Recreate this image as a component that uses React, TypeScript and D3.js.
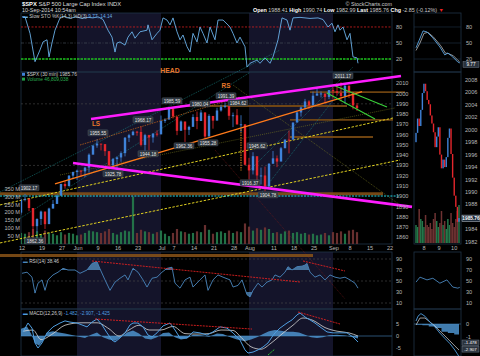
import * as d3 from "d3";

const FONT = "'Liberation Sans', Arial, sans-serif";
const BLUE = "#3f82d8";
const RED = "#e4262c";
const MAG = "#ff1cff";

// trading days 12-May-2014 .. 10-Sep-2014 (index 0..84)
const closes = [
  1896.65, 1897.45, 1888.53, 1870.85, 1877.86,
  1885.08, 1872.83, 1888.03, 1892.49, 1900.53,
  1911.91, 1909.78, 1920.03, 1923.57,
  1924.97, 1924.24, 1927.88, 1940.46, 1949.44,
  1951.27, 1950.79, 1943.89, 1930.11, 1936.16,
  1937.78, 1941.99, 1956.98, 1959.48, 1962.87,
  1962.61, 1949.98, 1959.53, 1957.22, 1960.96,
  1960.23,
  1973.32, 1974.62, 1985.44,
  1977.65, 1963.71, 1972.83, 1964.68, 1967.57,
  1977.1, 1973.28, 1981.57, 1958.12, 1978.22,
  1973.63, 1983.53, 1987.01, 1987.98, 1978.34,
  1978.91, 1969.95, 1970.07, 1930.67, 1925.15,
  1938.99, 1920.21, 1920.24, 1909.57, 1931.59,
  1936.92, 1933.75, 1946.72, 1955.18, 1955.06,
  1971.74, 1981.6, 1986.51, 1992.37, 1988.4,
  1997.92, 2000.02, 2000.12, 1996.74, 2003.37,
  2002.28, 2000.72, 1997.65, 2007.71,
  2001.54, 1988.44, 1985.76,
];
const highs = [
  1897, 1902.17, 1898, 1885.5, 1878.5,
  1886, 1884.9, 1888.8, 1896.3, 1901.3,
  1912.3, 1914.5, 1920.7, 1924,
  1925.9, 1925.1, 1928.6, 1941.7, 1949.4,
  1955.55, 1950.9, 1948.3, 1944, 1937.3,
  1938.8, 1943.7, 1957.7, 1960.8, 1963.9,
  1963.7, 1968.17, 1960.8, 1959.9, 1961.5,
  1964.2,
  1978.6, 1976, 1985.59,
  1984.1, 1976.7, 1973.8, 1969.9, 1968.7,
  1979.8, 1982.5, 1983.9, 1981.8, 1979.9,
  1976.4, 1986.2, 1989.2, 1991.39, 1984.6,
  1981.5, 1984.9, 1978.9, 1965.1, 1937.4,
  1942.9, 1937.4, 1927.9, 1928.9, 1932.4,
  1944.1, 1939.7, 1948, 1955.2, 1964,
  1971.99, 1982.6, 1987.4, 1994.8, 1993.5,
  2001.95, 2005, 2002.1, 1998.5, 2003.4,
  2006.1, 2009.3, 2011.17, 2007.7,
  2007.7, 2001, 1990.74,
];
const lows = [
  1882, 1895, 1885.5, 1862.36, 1864.8,
  1872, 1868.1, 1873.5, 1888, 1893.1,
  1902, 1907.3, 1909.8, 1916.6,
  1915.9, 1918.8, 1918.6, 1922.9, 1942.4,
  1947.2, 1944.6, 1939.3, 1925.78, 1927.7,
  1925.9, 1933.6, 1938.8, 1952.8, 1959.2,
  1958.9, 1948.5, 1944.18, 1944.7, 1952.2,
  1958.2,
  1962.3, 1971.4, 1975.9,
  1975.7, 1959.5, 1965.2, 1952.9, 1959.6,
  1969.8, 1965.3, 1975.7, 1955.6, 1960.8,
  1965.8, 1975.7, 1982.4, 1985.8, 1974.4,
  1967.3, 1969.9, 1962.4, 1930, 1916.37,
  1921.2, 1913.7, 1911.5, 1904.78, 1909,
  1933.4, 1928.3, 1935.6, 1947.4, 1941.7,
  1958.9, 1972.7, 1977.6, 1984.8, 1984.8,
  1991.7, 1998.6, 1996.2, 1990.5, 1994.6,
  1994.9, 1998.1, 1992.4, 1990.1,
  1995.6, 1984.6, 1982.99,
];
const firstOpen = 1884;

// volume, millions
const volumes = [
  70, 65, 75, 95, 80, 60, 85, 70, 65, 55, 75, 60, 70, 65,
  55, 60, 70, 85, 80, 75, 70, 80, 95, 70, 60, 75, 85, 80, 300,
  70, 90, 80, 75, 65, 75, 85, 65, 50, 70, 95, 80, 75, 65,
  70, 80, 75, 120, 90, 65, 75, 80, 70, 85, 70, 80, 75, 130, 110,
  85, 100, 90, 105, 95, 70, 75, 65, 80, 85, 70, 75, 65, 70, 60,
  65, 55, 60, 70, 55, 75, 70, 80, 65, 85, 90, 75,
];

const tickIdx = [0, 5, 10, 14, 19, 24, 29, 35, 38, 43, 48, 53, 57, 63, 68, 73, 78, 82, 87, 92];
const tickLabels = ["12", "19", "27", "Jun", "9", "16", "23", "Jul", "7", "14", "21", "28", "Aug", "11", "18", "25", "Sep", "8", "15", "22"];
const monthBands = [[14, 35], [57, 78]];

const priceTicks = [2010, 2000, 1990, 1980, 1970, 1960, 1950, 1940, 1930, 1920, 1910, 1900, 1890, 1880, 1870, 1860];
const volTicks = [50, 100, 150, 200, 250, 300, 350];
const stoTicks = [80, 50, 20];
const rsiTicks = [90, 70, 50, 30, 10];
const macdTicks = [5, 0, -5];

// slow stochastic [dayIndex, value]
const sto = [
  [0.25, 99], [1, 99], [2.25, 68], [3.5, 15], [4.75, 37], [5.5, 52], [6.5, 56], [7, 24], [7.75, 50],
  [8.5, 74], [9.75, 97], [10.5, 100], [12.25, 96], [13.75, 99], [15.25, 96], [16.75, 98], [18, 97],
  [19.25, 99], [20.5, 94], [21.75, 74], [22.75, 61], [23.5, 33], [24, 50], [24.75, 52], [26, 46],
  [26.75, 61], [27.75, 71], [28.5, 59], [29.75, 71], [31.5, 74], [31.75, 84], [32.75, 56], [34, 68],
  [34.75, 74], [35.5, 97], [36.5, 93], [37.25, 84], [38, 97], [39, 71], [39.75, 56], [40.5, 65],
  [41.5, 43], [42.25, 33], [43, 68], [44, 52], [44.75, 80], [45.5, 68], [46.5, 50], [47.25, 80],
  [48.5, 56], [49.25, 93], [50.5, 93], [52.25, 80], [53, 68], [54, 50], [54.75, 61], [56, 43],
  [56.5, 5], [57.25, 12], [59, 18], [59.75, 12], [61, 22], [62.25, 12], [63, 24], [64.25, 56],
  [65.25, 97], [66.5, 93], [67.25, 74], [68, 97], [69.75, 98], [72.25, 96], [74.25, 97], [75.5, 94],
  [76.75, 80], [77.75, 87], [78.5, 71], [79.25, 84], [79.75, 74], [80.5, 80], [81.5, 56], [82.25, 68],
  [83, 24], [84, 22], [84.25, 12],
];

const rsi = [
  [0.25, 64], [1.5, 66], [2.75, 57], [3.5, 28], [4.25, 46], [5.25, 52], [6, 33], [6.75, 52], [8, 61],
  [9.25, 66], [10.5, 73], [11.75, 70], [13.5, 70], [14.75, 64], [16.5, 70], [17.75, 82], [19, 85],
  [19.75, 72], [21, 52], [22.25, 33], [23.5, 48], [24.75, 55], [26, 61], [26.75, 52], [28, 73],
  [29.25, 66], [30.5, 52], [31.5, 39], [32.75, 55], [34, 57], [35.25, 66], [36.5, 73], [37.75, 75],
  [38.5, 46], [39.75, 37], [41, 52], [42.25, 57], [43, 39], [44.75, 52], [46, 61], [46.75, 33],
  [48, 52], [49.25, 61], [50.5, 57], [52.25, 52], [53, 39], [54.25, 42], [55.25, 52], [56.5, 25],
  [57.25, 21], [58, 33], [59.25, 46], [60.25, 39], [61.5, 48], [62.75, 52], [63.5, 61], [64.75, 57],
  [66, 66], [66.75, 76], [67.75, 70], [69, 76], [70.25, 77], [71, 79], [71.5, 82], [72.25, 66],
  [73.5, 57], [74.75, 61], [76, 52], [77.25, 61], [78.5, 57], [79.75, 55], [81, 57], [82.25, 52],
  [83.5, 46], [84.25, 37],
];

const macd = [
  [0.5, 1.7], [1.75, 5.4], [2.75, 3.3], [3.5, -2.9], [4.25, -5], [5.25, -2.9], [6.5, 1.3], [8, 3.8],
  [9.75, 5.4], [11, 6.3], [12.25, 5.8], [14, 5.4], [15.25, 4.6], [16.5, 3.8], [17.75, 5.8], [19, 7.1],
  [20.25, 4.6], [21.5, 1.3], [22.75, -1.7], [23.5, -2.5], [24.75, -0.8], [26, 1.3], [27.25, 4.6],
  [28, 5.4], [29.25, 5.4], [30.5, 3.8], [31.75, 0.4], [32.75, -0.4], [34, 1.3], [35.5, 4.2],
  [37.25, 5.4], [38.5, 2.5], [39.75, -0.8], [41.5, -0.8], [43, 1.7], [44.75, 1.3], [46.5, 0.4],
  [48, 1.7], [49.75, 3.8], [51.5, 3.3], [53, 1.3], [54.75, -1.7], [56, -5.8], [56.75, -7.1],
  [58, -6.7], [59.25, -5.8], [60.5, -4.6], [61.75, -2.9], [62.75, -0.4], [63.5, 1.3], [64.75, 3.3],
  [66.5, 5.4], [67.75, 6.7], [69, 8.8], [69.75, 9.6], [71, 7.9], [72.25, 6.7], [73.5, 5.4],
  [74.75, 3.8], [76.5, 1.7], [78, 1.3], [79.75, 1.3], [81.5, 1.3], [83, -0.4], [84.25, -2.5],
];
const macdSignal = [
  [0.5, 2], [3, 2.5], [5, -1.5], [8, 1], [11, 4.5], [15, 5.5], [19, 5.5], [22, 3], [24.5, 0],
  [27, 2.5], [29.5, 4.5], [32, 2.5], [35, 2.5], [38, 4], [41, 1], [44, 0.8], [47, 1], [50, 2.5],
  [53, 2.3], [55, -0.5], [57.5, -4.5], [60, -5.5], [62.5, -3], [65, 0.5], [68, 4.5], [70.5, 7.5],
  [73, 6.5], [76, 3.5], [79, 2], [82, 1.3], [84.25, 0],
];
const macdHist = [
  [0, 3], [1.5, 4], [2.5, 1], [3.5, -3], [4.5, -4], [5.5, -2], [6.5, 1.5], [8, 2], [9.5, 1.5],
  [11, 1], [13, 0.3], [14.5, -0.3], [16, -0.8], [17.5, 0.5], [19, 1.5], [20.5, -0.5], [22, -1.5],
  [23.5, -2], [25, -0.5], [26.5, 1.5], [28, 2.3], [29.5, 1], [31, -1], [32.5, -1.5], [34, -0.5],
  [35.5, 1.2], [37, 1.5], [38.5, -0.5], [40, -1.5], [41.5, -1], [43, 0.5], [45, 0.3], [47, -0.3],
  [49, 1], [50.5, 0.8], [52, -0.3], [54, -1.5], [56, -2.2], [57.5, -1.5], [59, -0.5], [60.5, 0.8],
  [62, 2], [63.5, 2.5], [65, 2.2], [66.5, 1.8], [68, 1.8], [69.5, 1.5], [71, 0.5], [72.5, -0.5],
  [74, -0.8], [75.5, -0.5], [77, 0.3], [79, 0.5], [81, 0.2], [82.5, -0.3], [84.25, -1],
];

// trendlines, [dayIndex, price]
const magentaLines = [
  [[17.5, 1975.2], [95, 2017.1]],
  [[13, 1932.4], [97.75, 1889.6]],
];
const orangeLines = [[[8.5, 1912], [85.25, 2002]]];
const orangeDotted = [[[14.75, 1949.9], [54.75, 1996.7]]];
const yellowLines = [
  [[-5.25, 1891.5], [93, 1976.2]],
  [[-5.25, 1854.5], [94.75, 1935.3]],
];
const oliveLines = [
  [[9.75, 1920.7], [93.5, 1986]],
  [[53, 2008.3], [94.75, 1891.5]],
];
const tealLines = [
  [[-5.25, 1904.1], [64.75, 2042.4]],
  [[-2.75, 1872.2], [57.25, 2020.7]],
  [[57.25, 1925.5], [83, 2025.9]],
  [[60.25, 1904.1], [81, 2008.3]],
];
const redDotted = [[[48.5, 1945], [81, 1800]]];
const greenLines = [
  [[78, 2008.3], [91.5, 1986.9]],
  [[76.5, 2000.5], [88.5, 1975.2]],
];
const brownLines = [
  [[72.25, 2001.5], [96, 2001.5]],
  [[39.75, 1987.9], [81.5, 1987.9]],
  [[67.25, 1974.3], [93, 1974.3]],
  [[67.25, 1957.7], [88, 1957.7]],
];
const orangeBand = [[-5.25, 1902.5], [90.5, 1902.5]];
const cyanLevel = [[-5.25, 1900.2], [94.5, 1900.2]];
const gridPrices = [1990, 1930];
const vertDotted = [[55, 1965], [55, 1925]];

const tags = [
  ["1902.17", 2, 1908], ["1862.36", 3.5, 1856.4], ["1955.55", 19.25, 1961.6], ["1925.78", 23, 1921.7],
  ["1968.17", 30.5, 1974.3], ["1944.18", 31.75, 1941.2], ["1985.59", 37.75, 1992.8], ["1962.36", 40.75, 1948.9],
  ["1980.04", 44.75, 1989.8], ["1955.28", 46.75, 1951.8], ["1991.39", 51.25, 1997.6], ["1984.62", 54.25, 1990.8],
  ["1945.62", 59, 1948.9], ["1916.37", 57.25, 1912.9], ["1904.78", 61.75, 1901.2], ["2011.17", 80.5, 2017.1],
];
const patternLabels = [["HEAD", 37.25, 2020.5], ["LS", 18.75, 1968.3], ["RS", 51.25, 2005.4]];

const rsiRedLines = [
  [[17.75, 86.4], [69.75, 48.2]],
  [[70.5, 86.4], [81, 68.2]],
];
const rsiBand = [[-5.25, 96.4], [73, 96.4]];
const macdRedLines = [
  [[18.5, 7.1], [57.75, 2.9]],
  [[69.25, 10], [79.75, 5]],
];
const macdGreen = [[61.75, -7.9], [63.5, -5.4]];

// right-hand mini panels, 30-min bars 8..10 Sep
const miniCloses = [
  1999.5, 2001.8, 2000.6, 2003.2, 2005.9, 2007.4, 2006.2, 2004.8, 2004.1, 2002.3, 2001.0, 1999.6, 1997.2, 1998.9,
  2000.4, 1996.0, 1993.8, 1995.2, 1994.0, 1995.6, 1998.7, 2000.2, 1996.1, 1992.3, 1989.4, 1987.6, 1985.2, 1985.8,
];
const miniOpen = 1998;
const miniVol = [45, 40, 85, 60, 55, 40, 70, 45, 40, 50, 35, 60, 75, 55, 40, 50, 80, 45, 55, 35, 60, 45, 75, 50, 40, 60, 80, 95];
const miniTickIdx = [5, 14.5, 24];
const miniTickLabels = ["8", "9", "10"];
// 1986 sits under the last-price box, as in the source chart
const miniPriceTicks = [2008, 2006, 2004, 2002, 2000, 1998, 1996, 1994, 1992, 1990, 1988, 1984, 1982];
const miniStoK = [[0, 41], [2, 55], [4.4, 72.6], [6.9, 70.7], [10.6, 59.5], [15, 42.6], [18.1, 27.6], [20, 31.3], [23.1, 23.8], [26.25, 14.4], [27.5, 12.6]];
const miniStoD = [[0, 36], [2.5, 50], [5, 68], [7.5, 70], [11, 61], [15.5, 45], [18.5, 31], [20.5, 30], [23.5, 26], [26.5, 17], [27.5, 14.1]];
const miniRsi = [[0, 48], [2.5, 57], [6.9, 52], [10.6, 55], [15, 46], [19.4, 52], [23.1, 39], [26.25, 37], [27.5, 38.5]];
const miniMacd = [[0, 0.23], [1.25, 0.6], [3.1, 0.8], [5.6, 0.6], [8.75, 0.15], [11.9, -0.23], [15, -0.7], [18.1, -1.1], [21.25, -1.5], [24.4, -2], [27, -2.5]];
const miniSignal = [[0, -0.08], [2.5, 0.46], [5.6, 0.46], [8.8, 0.15], [11.9, -0.15], [15, -0.54], [18.2, -0.92], [21.3, -1.3], [24.5, -1.7], [27, -2.0]];
const miniHist = [[0, -0.05], [4, -0.1], [8, -0.2], [12, -0.3], [16, -0.6], [20, -0.7], [24, -0.8], [27, -1.05]];
const miniMacdTicks = [0, -1];

const P = { l: 21, r: 392, ml: 414, mr: 461 };
const STO = { t: 13, b: 72 };
const PR = { t: 72, b: 244 };
const RS = { t: 252, b: 309 };
const MC = { t: 309, b: 356 };

export default function App() {
  const x = d3.scaleLinear().domain([0, 92]).range([21, 389]);
  const yP = d3.scaleLinear().domain([1860, 2010]).range([237.3, 83.3]);
  const yV = d3.scaleLinear().domain([0, 350]).range([244, 188.7]);
  const yS = d3.scaleLinear().domain([0, 100]).range([69.7, 16.3]);
  const yR = d3.scaleLinear().domain([0, 100]).range([308.5, 253.5]);
  const yM = d3.scaleLinear().domain([-5, 5]).range([348, 324]);
  const xm = d3.scaleLinear().domain([0, 27]).range([416, 459]);
  const ymP = d3.scaleLinear().domain([1982, 2008]).range([241.7, 80]);
  const ymV = d3.scaleLinear().domain([0, 100]).range([243, 203]);
  const ymM = d3.scaleLinear().domain([-1, 0]).range([337, 324]);

  const mk = (sx: any, sy: any, curve: any = d3.curveLinear) =>
    d3.line<number[]>().x((d) => sx(d[0])).y((d) => sy(d[1])).curve(curve);
  const lp = mk(x, yP);
  const lS = mk(x, yS);
  const lR = mk(x, yR);
  const lM = mk(x, yM);

  const rsiAreaHi = d3.area<number[]>().x((d) => x(d[0])).y0(yR(70)).y1((d) => yR(d[1]));
  const rsiAreaLo = d3.area<number[]>().x((d) => x(d[0])).y0(yR(30)).y1((d) => yR(d[1]));
  const histArea = d3.area<number[]>().x((d) => x(d[0])).y0(yM(0)).y1((d) => yM(d[1]));
  const miniHistArea = d3.area<number[]>().x((d) => xm(d[0])).y0(ymM(0)).y1((d) => ymM(d[1])).curve(d3.curveStepAfter);

  const axisTxt = { fontSize: 5.6, fill: "#b8b8b8", fontFamily: FONT };
  const segs = (list: any[], props: any) =>
    list.map((s, i) => <path key={i} d={lp(s) || ""} fill="none" {...props} />);

  const panels = [STO, PR, RS, MC];

  return (
    <svg
      width={480}
      height={356}
      style={{ position: "absolute", left: 0, top: 0, background: "#000" }}
      fontFamily={FONT}
    >
      <defs>
        <clipPath id="clipMain">
          <rect x={P.l} y={STO.t} width={P.r - P.l} height={MC.b - STO.t} />
        </clipPath>
        <clipPath id="rsiHi">
          <rect x={P.l} y={RS.t} width={P.r - P.l} height={yR(70) - RS.t} />
        </clipPath>
        <clipPath id="rsiLo">
          <rect x={P.l} y={yR(30)} width={P.r - P.l} height={RS.b - yR(30)} />
        </clipPath>
      </defs>
      <rect width={480} height={356} fill="#000" />

      {/* month shading */}
      {panels.map((pn, j) =>
        monthBands.map((b, i) => (
          <rect key={`${j}-${i}`} x={x(b[0])} y={pn.t} width={x(b[1]) - x(b[0])} height={pn.b - pn.t} fill="#14142a" />
        ))
      )}

      {/* frames */}
      {panels.map((pn, j) => (
        <g key={j}>
          <rect x={P.l} y={pn.t} width={P.r - P.l} height={pn.b - pn.t} fill="none" stroke="#1f3346" strokeWidth={0.8} />
          <rect x={P.ml} y={pn.t} width={P.mr - P.ml} height={pn.b - pn.t} fill="none" stroke="#1f3346" strokeWidth={0.8} />
        </g>
      ))}

      {/* header */}
      <text x={22} y={6} fontSize={5.8} fill="#ddd">
        <tspan fontWeight="bold" fill="#fff">$SPX</tspan> S&amp;P 500 Large Cap Index INDX
      </text>
      <text x={22} y={11.5} fontSize={5.4} fill="#ddd">10-Sep-2014 10:54am</text>
      <text x={392} y={6} fontSize={5.4} fill="#ccc" textAnchor="end">© StockCharts.com</text>
      <text x={253} y={11.5} fontSize={5.4} fill="#ccc">
        <tspan fontWeight="bold" fill="#fff">Open</tspan> 1988.41 <tspan fontWeight="bold" fill="#fff">High</tspan> 1990.74{" "}
        <tspan fontWeight="bold" fill="#fff">Low</tspan> 1982.99 <tspan fontWeight="bold" fill="#fff">Last</tspan> 1985.76{" "}
        <tspan fontWeight="bold" fill="#fff">Chg</tspan> -2.85 (-0.12%) <tspan fill="#e22">▼</tspan>
      </text>

      {/* STO panel */}
      <line x1={P.l} x2={P.r} y1={yS(80)} y2={yS(80)} stroke="#d42020" strokeDasharray="2,1.5" strokeWidth={0.8} />
      <line x1={P.l} x2={P.r} y1={yS(50)} y2={yS(50)} stroke="#4a5560" strokeDasharray="3,1.5,1,1.5" strokeWidth={0.6} />
      <line x1={P.l} x2={P.r} y1={yS(20)} y2={yS(20)} stroke="#1ec21e" strokeDasharray="2.5,1" strokeWidth={1.4} />
      <path d={lS(sto) || ""} fill="none" stroke="#6ab0e8" strokeWidth={0.9} clipPath="url(#clipMain)" />
      <text x={23} y={18} fontSize={4.8} fill="#ccc">
        <tspan fill="#6ab0e8">▬ </tspan>Slow STO %K(14,3) %D(3) <tspan fill="#6ab0e8">9.77, 14.14</tspan>
      </text>
      {stoTicks.map((t) => (
        <text key={t} x={396} y={yS(t) + 2} {...axisTxt}>{t}</text>
      ))}

      {/* price panel grid */}
      {gridPrices.map((g) => (
        <line key={g} x1={P.l} x2={P.r} y1={yP(g)} y2={yP(g)} stroke="#4a4a4a" strokeDasharray="2,2" strokeWidth={0.6} />
      ))}

      {/* volume */}
      <g clipPath="url(#clipMain)">
        {volumes.map((v, i) => {
          const o = i === 0 ? firstOpen : closes[i - 1];
          const up = closes[i] >= o;
          return (
            <rect key={i} x={x(i) - 1.1} y={yV(v)} width={2.2} height={yV(0) - yV(v)} fill={up ? "#24774a" : "#6e3232"} opacity={0.95} />
          );
        })}
      </g>

      {/* trendlines behind price */}
      {segs([orangeBand], { stroke: "#8a5418", strokeWidth: 3, opacity: 0.85 })}
      {segs(brownLines, { stroke: "#7a4a12", strokeWidth: 1.8, opacity: 0.9 })}
      {segs(tealLines, { stroke: "#1a8c8c", strokeWidth: 0.6, strokeDasharray: "1,1" })}
      {segs(oliveLines, { stroke: "#7a7a20", strokeWidth: 0.6, strokeDasharray: "1,1" })}
      {segs(redDotted, { stroke: "#7a1a1a", strokeWidth: 0.6, strokeDasharray: "1,1" })}
      {segs(yellowLines, { stroke: "#e0d020", strokeWidth: 1, strokeDasharray: "2.5,1.5" })}

      {/* candles with high-low wicks */}
      <g clipPath="url(#clipMain)">
        {closes.map((c, i) => {
          const o = i === 0 ? firstOpen : closes[i - 1];
          const up = c >= o;
          const col = up ? BLUE : RED;
          const y0 = yP(Math.max(o, c));
          const y1 = yP(Math.min(o, c));
          return (
            <g key={i}>
              <line x1={x(i)} x2={x(i)} y1={yP(highs[i])} y2={yP(lows[i])} stroke={col} strokeWidth={0.8} />
              <rect x={x(i) - 1.2} y={y0} width={2.4} height={Math.max(1, y1 - y0)} fill={col} />
            </g>
          );
        })}
      </g>

      {segs([cyanLevel], { stroke: "#22d8e6", strokeWidth: 1, strokeDasharray: "2,1.2" })}
      {segs(orangeDotted, { stroke: "#b8601a", strokeWidth: 0.8, strokeDasharray: "1.5,1" })}
      {segs(orangeLines, { stroke: "#ff7a1a", strokeWidth: 1.3 })}
      {segs([vertDotted], { stroke: "#e08a20", strokeWidth: 1, strokeDasharray: "1.5,1" })}
      {segs(greenLines, { stroke: "#3ad23a", strokeWidth: 1.1 })}
      {segs(magentaLines, { stroke: MAG, strokeWidth: 2.6 })}

      {/* value tags */}
      {tags.map(([t, i, p]: any) => (
        <g key={t}>
          <rect x={x(i) - 10} y={yP(p) - 3.2} width={20} height={6} rx={0.8} fill="#2b333d" stroke="#5a6470" strokeWidth={0.4} />
          <text x={x(i)} y={yP(p) + 1.6} fontSize={4.6} fill="#e6e6e6" textAnchor="middle">{t}</text>
        </g>
      ))}
      {patternLabels.map(([t, i, p]: any) => (
        <text key={t} x={x(i)} y={yP(p)} fontSize={t === "HEAD" ? 6.8 : 6.4} fontWeight="bold" fill="#e8782a" textAnchor="middle">{t}</text>
      ))}

      {/* price legend */}
      <rect x={22} y={72.8} width={3} height={3} fill={BLUE} />
      <text x={27} y={76} fontSize={4.8} fill="#ccc">$SPX (30 min) 1985.76</text>
      <rect x={22} y={77.6} width={3} height={3} fill="#24a04a" />
      <text x={27} y={80.8} fontSize={4.8} fill="#2cb050">Volume 46,809,038</text>

      {priceTicks.map((t) => (
        <text key={t} x={396} y={yP(t) + 2} {...axisTxt}>{t}</text>
      ))}
      {volTicks.map((t) => (
        <text key={t} x={20} y={yV(t) + 2} textAnchor="end" {...axisTxt}>{t} M</text>
      ))}
      {tickIdx.map((t, i) => (
        <text key={i} x={x(t) + 1} y={249.5} textAnchor="middle" {...axisTxt}>{tickLabels[i]}</text>
      ))}

      {/* RSI */}
      <path d={lR(rsiBand) || ""} stroke="#8a5418" strokeWidth={3} opacity={0.85} />
      {rsiTicks.filter((t) => t !== 70 && t !== 30).map((t) => (
        <line key={t} x1={P.l} x2={P.r} y1={yR(t)} y2={yR(t)} stroke="#4a4a4a" strokeDasharray="2,2" strokeWidth={0.6} />
      ))}
      <path d={rsiAreaHi(rsi) || ""} fill="#5a9ad0" opacity={0.7} clipPath="url(#rsiHi)" />
      <path d={rsiAreaLo(rsi) || ""} fill="#5a9ad0" opacity={0.7} clipPath="url(#rsiLo)" />
      <path d={lR(rsi) || ""} fill="none" stroke="#4a86bc" strokeWidth={0.9} />
      {rsiRedLines.map((s, i) => (
        <path key={i} d={lR(s) || ""} stroke="#e02020" strokeWidth={0.9} strokeDasharray="2,1" />
      ))}
      <text x={23} y={263} fontSize={4.8} fill="#ccc">
        <tspan fill="#4a86bc">▬ </tspan>RSI(14) 38.46
      </text>
      {rsiTicks.map((t) => (
        <text key={t} x={396} y={yR(t) + 2} {...axisTxt}>{t}</text>
      ))}

      {/* MACD */}
      <line x1={P.l} x2={P.r} y1={yM(0)} y2={yM(0)} stroke="#2f5a80" strokeWidth={0.9} />
      <path d={histArea(macdHist) || ""} fill="#4c92cc" opacity={0.85} clipPath="url(#clipMain)" />
      <path d={mk(x, yM, d3.curveMonotoneX)(macdSignal) || ""} fill="none" stroke="#d8d8d8" strokeWidth={0.8} clipPath="url(#clipMain)" />
      <path d={lM(macd) || ""} fill="none" stroke="#4f9ee0" strokeWidth={1} clipPath="url(#clipMain)" />
      {macdRedLines.map((s, i) => (
        <path key={i} d={lM(s) || ""} stroke="#e02020" strokeWidth={0.9} strokeDasharray="2,1" />
      ))}
      <path d={lM(macdGreen) || ""} stroke="#2ed02e" strokeWidth={0.9} strokeDasharray="2,1" />
      <text x={23} y={315} fontSize={4.8} fill="#ccc">
        <tspan fill="#4f9ee0">▬ </tspan>MACD(12,26,9) <tspan fill="#4f9ee0">-1.482, -2.907, -1.425</tspan>
      </text>
      {macdTicks.map((t) => (
        <text key={t} x={396} y={yM(t) + 2} {...axisTxt}>{t}</text>
      ))}

      {/* ---- mini panels ---- */}
      <line x1={P.ml} x2={P.mr} y1={yS(80)} y2={yS(80)} stroke="#1f3346" strokeWidth={0.6} />
      <line x1={P.ml} x2={P.mr} y1={yS(50)} y2={yS(50)} stroke="#1f3346" strokeWidth={0.6} />
      <line x1={P.ml} x2={P.mr} y1={yS(20)} y2={yS(20)} stroke="#1f3346" strokeWidth={0.6} />
      <path d={mk(xm, yS)(miniStoD) || ""} fill="none" stroke="#d0d0d0" strokeWidth={0.7} />
      <path d={mk(xm, yS)(miniStoK) || ""} fill="none" stroke="#5aa4e0" strokeWidth={0.9} />
      {stoTicks.map((t) => (
        <text key={t} x={466} y={yS(t) + 2} {...axisTxt}>{t}</text>
      ))}
      <rect x={463} y={yS(9.77) - 3} width={16} height={6} fill="#2b333d" stroke="#8090a0" strokeWidth={0.4} />
      <text x={471} y={yS(9.77) + 1.7} fontSize={4.6} fill="#fff" textAnchor="middle">9.77</text>

      {miniVol.map((v, i) => {
        const o = i === 0 ? miniOpen : miniCloses[i - 1];
        const up = miniCloses[i] >= o;
        return <rect key={i} x={xm(i) - 0.75} y={ymV(v)} width={1.5} height={ymV(0) - ymV(v)} fill={up ? "#24774a" : "#6e3232"} />;
      })}
      {miniCloses.map((c, i) => {
        const o = i === 0 ? miniOpen : miniCloses[i - 1];
        const up = c >= o;
        const y0 = ymP(Math.max(o, c));
        const y1 = ymP(Math.min(o, c));
        return <rect key={i} x={xm(i) - 0.7} y={y0} width={1.4} height={Math.max(1, y1 - y0)} fill={up ? BLUE : RED} />;
      })}
      {miniPriceTicks.map((t) => (
        <text key={t} x={465} y={ymP(t) + 2} {...axisTxt}>{t}</text>
      ))}
      <rect x={462} y={ymP(1985.76) - 3.2} width={18} height={6.4} fill="#1c2a3a" stroke="#c8d0d8" strokeWidth={0.5} />
      <text x={471} y={ymP(1985.76) + 1.8} fontSize={4.8} fontWeight="bold" fill="#fff" textAnchor="middle">1985.76</text>
      {miniTickIdx.map((t, i) => (
        <text key={i} x={xm(t)} y={249.5} textAnchor="middle" {...axisTxt}>{miniTickLabels[i]}</text>
      ))}

      <path d={mk(xm, yR)(miniRsi) || ""} fill="none" stroke="#4a86bc" strokeWidth={0.9} />
      {rsiTicks.map((t) => (
        <text key={t} x={466} y={yR(t) + 2} {...axisTxt}>{t}</text>
      ))}

      <line x1={P.ml} x2={P.mr} y1={ymM(0)} y2={ymM(0)} stroke="#2f5a80" strokeWidth={0.8} />
      <path d={miniHistArea(miniHist) || ""} fill="#4c92cc" opacity={0.85} />
      <path d={mk(xm, ymM)(miniSignal) || ""} fill="none" stroke="#d8d8d8" strokeWidth={0.7} />
      <path d={mk(xm, ymM)(miniMacd) || ""} fill="none" stroke="#4f9ee0" strokeWidth={0.9} />
      {miniMacdTicks.map((t) => (
        <text key={t} x={466} y={ymM(t) + 2} {...axisTxt}>{t}</text>
      ))}
      <rect x={462} y={340} width={17} height={5.6} fill="#2b333d" stroke="#8090a0" strokeWidth={0.4} />
      <text x={470.5} y={344.4} fontSize={4.4} fill="#fff" textAnchor="middle">-1.478</text>
      <rect x={462} y={346.5} width={17} height={5.6} fill="#2b333d" stroke="#8090a0" strokeWidth={0.4} />
      <text x={470.5} y={350.9} fontSize={4.4} fill="#fff" textAnchor="middle">-2.907</text>
    </svg>
  );
}
